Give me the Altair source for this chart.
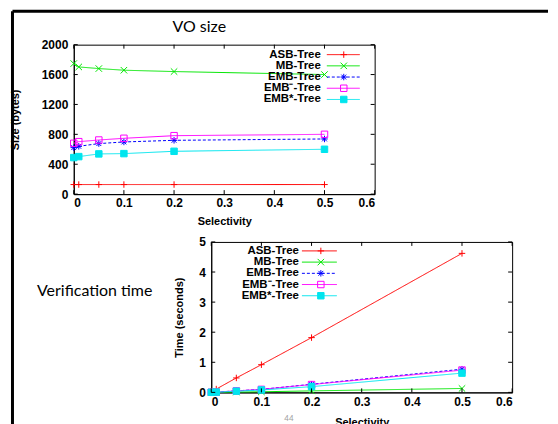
import altair as alt
import pandas as pd

series = ["ASB-Tree", "MB-Tree", "EMB-Tree", "EMB⁻-Tree", "EMB*-Tree"]
colors = ["#ff0000", "#00e600", "#0000ff", "#ff00ff", "#00e5ee"]
fills = ["transparent", "transparent", "transparent", "transparent", "#00e5ee"]
dashes = [[1, 0], [1, 0], [3, 2], [1, 0], [1, 0]]
shapes = [
    "M-1,0L1,0M0,-1L0,1",
    "M-1,-1L1,1M-1,1L1,-1",
    "M-1,0L1,0M0,-1L0,1M-0.75,-0.75L0.75,0.75M-0.75,0.75L0.75,-0.75",
    "square",
    "square",
]

selectivity = [0, 0.01, 0.05, 0.1, 0.2, 0.5]
x_ticks = [0, 0.1, 0.2, 0.3, 0.4, 0.5, 0.6]

vo_asb = [128, 128, 128, 128, 128, 128]
vo_mb = [1747, 1702, 1680, 1658, 1640, 1600]
vo_emb = [622, 640, 676, 698, 720, 738]
vo_embm = [680, 702, 724, 747, 782, 800]
vo_embs = [489, 502, 538, 542, 573, 600]
vo_ticks = [0, 400, 800, 1200, 1600, 2000]

t_asb = [0.02, 0.11, 0.48, 0.92, 1.82, 4.62]
t_mb = [0.0, 0.0, 0.01, 0.02, 0.05, 0.13]
t_emb = [0.005, 0.01, 0.05, 0.1, 0.27, 0.77]
t_embm = [0.005, 0.01, 0.05, 0.1, 0.26, 0.74]
t_embs = [0.003, 0.01, 0.04, 0.08, 0.19, 0.64]
t_ticks = [0, 1, 2, 3, 4, 5]

top_title = ["VO size"]
side_label = ["Verification time"]
page_label = ["44"]


def long_df(cols):
    rows = []
    for name, vals in zip(series, cols):
        for s, v in zip(selectivity, vals):
            rows.append({"sel": s, "val": v, "series": name})
    return pd.DataFrame(rows)


color_scale = alt.Scale(domain=series, range=colors)
fill_scale = alt.Scale(domain=series, range=fills)
dash_scale = alt.Scale(domain=series, range=dashes)
shape_scale = alt.Scale(domain=series, range=shapes)


def panel(df, ytitle, ymax, yticks, ytp, xlp, xtp, w, h, leg_x, leg_rows, extras=()):
    x = alt.X("sel:Q", scale=alt.Scale(domain=[0, 0.6], nice=False),
              axis=alt.Axis(values=x_ticks, format="~g", title="Selectivity",
                            labelPadding=xlp, titlePadding=xtp))
    y = alt.Y("val:Q", scale=alt.Scale(domain=[0, ymax], nice=False),
              axis=alt.Axis(values=yticks, format="d", title=ytitle, titlePadding=ytp))
    base = alt.Chart(df)
    lines = base.mark_line(strokeWidth=1).encode(
        x=x, y=y,
        color=alt.Color("series:N", scale=color_scale, legend=None),
        strokeDash=alt.StrokeDash("series:N", scale=dash_scale, legend=None),
    )
    pts = base.mark_point(filled=False, size=42, strokeWidth=1, opacity=1).encode(
        x=x, y=y,
        shape=alt.Shape("series:N", scale=shape_scale, legend=None),
        stroke=alt.Stroke("series:N", scale=color_scale, legend=None),
        fill=alt.Fill("series:N", scale=fill_scale, legend=None),
    )
    # inward tick marks on all four sides, placed through the scales
    xt = alt.Chart(pd.DataFrame({"sel": x_ticks}))
    yt = alt.Chart(pd.DataFrame({"val": yticks}))
    tick_b = xt.mark_rule(color="black", strokeWidth=1).encode(
        x=x, y=alt.value(h), y2=alt.value(h - 4))
    tick_t = xt.mark_rule(color="black", strokeWidth=1).encode(
        x=x, y=alt.value(0), y2=alt.value(4))
    tick_l = yt.mark_rule(color="black", strokeWidth=1).encode(
        y=y, x=alt.value(0), x2=alt.value(4))
    tick_r = yt.mark_rule(color="black", strokeWidth=1).encode(
        y=y, x=alt.value(w), x2=alt.value(w - 4))
    data_layers = alt.layer(lines, pts, tick_b, tick_t, tick_l, tick_r)

    leg = alt.Chart(pd.DataFrame({"series": series}))
    ly = alt.Y("series:N", scale=alt.Scale(type="point", domain=series, range=leg_rows, padding=0), axis=None)
    lt = leg.mark_text(align="right", baseline="middle", font="Liberation Sans",
                       fontWeight="bold", fontSize=11.5, color="black").encode(
        x=alt.value(leg_x[0]), y=ly, text="series:N")
    lr = leg.mark_rule(strokeWidth=1).encode(
        x=alt.value(leg_x[1]), x2=alt.value(leg_x[2]), y=ly,
        color=alt.Color("series:N", scale=color_scale, legend=None),
        strokeDash=alt.StrokeDash("series:N", scale=dash_scale, legend=None),
    )
    lp = leg.mark_point(filled=False, size=42, strokeWidth=1, opacity=1).encode(
        x=alt.value(leg_x[3]), y=ly,
        shape=alt.Shape("series:N", scale=shape_scale, legend=None),
        stroke=alt.Stroke("series:N", scale=color_scale, legend=None),
        fill=alt.Fill("series:N", scale=fill_scale, legend=None),
    )
    legend_layers = alt.layer(lt, lr, lp, *extras)
    return alt.layer(data_layers, legend_layers).resolve_scale(y="independent").properties(
        width=w, height=h)


vo_df = long_df([vo_asb, vo_mb, vo_emb, vo_embm, vo_embs])
t_df = long_df([t_asb, t_mb, t_emb, t_embm, t_embs])

one = alt.Chart(pd.DataFrame({"t": side_label}))
frame_top = one.mark_rule(strokeWidth=3, color="black").encode(
    x=alt.value(-61.5), x2=alt.value(476), y=alt.value(-33.5))
frame_left = one.mark_rule(strokeWidth=3, color="black").encode(
    x=alt.value(-61.5), y=alt.value(-33.5), y2=alt.value(395))
side_text = one.mark_text(font="Lato", fontSize=16, color="black").encode(
    text="t:N", x=alt.value(21), y=alt.value(247))
title_text = alt.Chart(pd.DataFrame({"t": top_title})).mark_text(
    font="Lato", fontSize=16, color="black").encode(
    text="t:N", x=alt.value(126), y=alt.value(-18))

chart1 = panel(vo_df, "Size (bytes)", 2000, vo_ticks, 21, 3, 8, 302, 150,
               [248, 254, 287, 271], [10, 55],
               extras=(frame_top, frame_left, side_text, title_text))

page_no = alt.Chart(pd.DataFrame({"t": page_label})).mark_text(
    fontSize=8, color="#a0a0a0", font="Lato").encode(
    text="t:N", x=alt.value(78), y=alt.value(178))

chart2 = panel(t_df, "Time (seconds)", 5, t_ticks, 14, 4, 9, 302, 151,
               [88, 91, 126, 110], [9, 54], extras=(page_no,))

spacer = alt.Chart(pd.DataFrame({"t": [""]})).mark_text().encode(
    text="t:N").properties(
    width=98, height=1, view=alt.ViewBackground(stroke="transparent"))

chart = alt.vconcat(
    chart1,
    alt.hconcat(spacer, chart2, spacing=0),
    spacing=48,
    bounds="flush",
).properties(
    padding=0,
).configure_axis(
    labelFont="Liberation Sans", labelFontWeight="bold", labelFontSize=12,
    labelColor="black", titleFont="Liberation Sans", titleFontWeight="bold",
    titleFontSize=11, titleColor="black", domainColor="black", grid=False,
    ticks=False, labelPadding=6,
).configure_view(
    stroke="black", strokeWidth=1,
)

chart.save("out.html", embed_options={"renderer": "svg", "actions": False})
